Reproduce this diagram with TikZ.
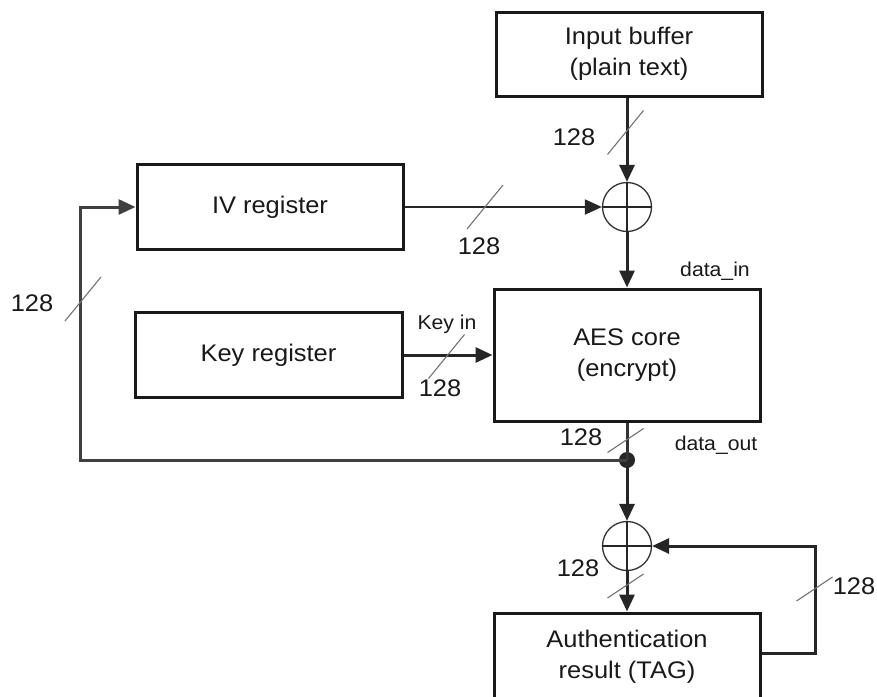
\documentclass[tikz,border=0pt]{standalone}
\usepackage{fontspec}
\setmainfont{Liberation Sans}[FakeStretch=1.06]
\usetikzlibrary{arrows.meta,calc}
\begin{document}
\begin{tikzpicture}[x=1pt,y=-1pt,
  box/.style={draw=black!90,line width=3pt,minimum width=266pt,inner sep=0pt,align=center,font=\fontsize{24}{31}\selectfont,text=black!90},
  xorc/.style={circle,draw=black!80,line width=1.3pt,minimum size=49pt,inner sep=0pt},
  arr/.style={draw=black!85,line width=3pt,-{Triangle[length=17pt,width=15pt]}},
  wire/.style={draw=black!80,line width=3pt},
  busslash/.style={draw=black!55,line width=1.1pt},
  bus/.pic={\draw[busslash] (-18,22) -- (18,-22);},
  busflat/.pic={\draw[busslash] (-18,12) -- (18,-12);},
  lbl/.style={font=\fontsize{24}{24}\selectfont,inner sep=0pt,text=black!90},
  sig/.style={font=\fontsize{20}{20}\selectfont,inner sep=0pt,text=black!90}]

\fill[white] (0,0) rectangle (877,696);
\useasboundingbox (0,0) rectangle (877,696);

% blocks
\node[box,minimum height=84pt] (inbuf) at (629,54) {Input buffer\\(plain text)};
\node[box,minimum height=85pt] (iv) at (270,207) {IV register};
\node[box,minimum height=85pt,minimum width=267pt] (key) at (268.5,355) {Key register};
\node[box,minimum height=132pt] (aes) at (627,355) {AES core\\(encrypt)};
\node[box,minimum height=88pt] (auth) at (627,657) {Authentication\\result (TAG)};

\node[xorc] (x1) at (627,207) {};
\node[xorc] (x2) at (627,546) {};
\node[circle,fill=black!85,minimum size=16pt,inner sep=0pt] (dot) at (627,460) {};

\coordinate (fbx) at (80,460);
\coordinate (fbr) at (815,653);

% crosses in XOR circles
\draw[line width=1.5pt,black!85] (x1.north) -- (x1.south) (x1.west) -- (x1.east);
\draw[line width=1.5pt,black!85] (x2.north) -- (x2.south) (x2.west) -- (x2.east);

% connectors
\draw[arr] (inbuf.south -| x1.north) -- (x1.north);
\draw[arr,line width=2pt] (iv.east) -- (x1.west);
\draw[arr] (x1.south) -- (aes.north);
\draw[arr] (key.east) -- (aes.west);
\draw[wire] (aes.south) -- (dot.center);
\draw[arr] (dot.center) -- (x2.north);
\draw[arr,draw=black!75] (dot.center) -- (fbx) |- (iv.west);
\draw[arr] (x2.south) -- (auth.north);
\draw[arr] (auth.east |- fbr) -- (fbr) |- (x2.east);

% bus width slashes
\pic at (625.5,132.5) {bus};
\pic at (485,207) {bus};
\pic at (446.5,356.5) {bus};
\pic at (83,299) {bus};
\pic at (625.5,440.5) {busflat};
\pic at (625.5,586) {busflat};
\pic at (814.5,589) {busflat};

% labels
\node[lbl] (w1) at (574,137) {128};
\node[lbl] (w2) at (479,246) {128};
\node[lbl] (w3) at (440,388) {128};
\node[lbl] (w4) at (32,303) {128};
\node[lbl] (w5) at (581,437) {128};
\node[lbl] (w6) at (578,568) {128};
\node[lbl] (w7) at (854,586) {128};

\node[sig] (din) at (715,271) {data\_in};
\node[sig] (dout) at (716,445) {data\_out};
\node[sig] (kin) at (447,324) {Key in};
\end{tikzpicture}
\end{document}
